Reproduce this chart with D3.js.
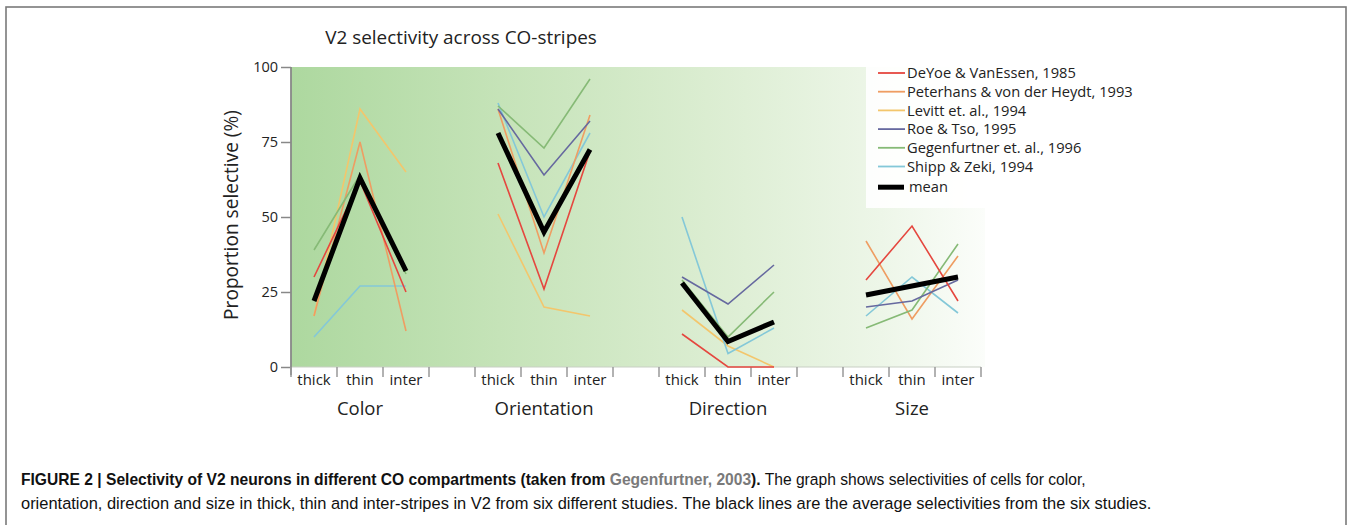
<!DOCTYPE html>
<html>
<head>
<meta charset="utf-8">
<script src="https://cdn.jsdelivr.net/npm/d3@7"></script>
<style>
  html, body { margin: 0; padding: 0; background: #fff; }
  svg { display: block; }
  text { font-family: "Open Sans", "Noto Sans", sans-serif; fill: #222; }
  .caption text { font-family: "Liberation Sans Narrow", "Liberation Sans", Arial, sans-serif; fill: #111; }
</style>
</head>
<body>
<div id="chart"></div>
<script>
// groups of stripes (x axis)
const groups = ["Color", "Orientation", "Direction", "Size"];
const stripes = ["thick", "thin", "inter"];
const yTicks = [0, 25, 50, 75, 100];

const studies = [
  "DeYoe & VanEssen, 1985",
  "Peterhans & von der Heydt, 1993",
  "Levitt et. al., 1994",
  "Roe & Tso, 1995",
  "Gegenfurtner et. al., 1996",
  "Shipp & Zeki, 1994"
];
const studyColors = ["#e5473f", "#ef9d62", "#f3c66c", "#66699f", "#86ba76", "#84c8d8"];

// values per study: Color(thick,thin,inter), Orientation(...), Direction(...), Size(...)
const deyoe        = [30, 62, 25,   68, 26, 72,   11, 0, 0,      29, 47, 22];
const peterhans    = [17, 75, 12,   86, 38, 84,   null, null, null, 42, 16, 37];
const levitt       = [17, 86, 65,   51, 20, 17,   19, 7, 0,      null, null, null];
const roe          = [null, null, null, 86, 64, 82, 30, 21, 34,  20, 22, 29];
const gegenfurtner = [39, 64, 31,   87, 73, 96,   29, 10, 25,    13, 19, 41];
const shipp        = [10, 27, 27,   88, 50, 78,   50, 4.5, 13,   17, 30, 18];
const meanVals     = [22, 63, 32,   78, 45, 72.5, 28, 8.5, 15,   24, 27, 30];

const studyValues = [deyoe, peterhans, levitt, roe, gegenfurtner, shipp];
const drawOrder = [2, 5, 1, 4, 3, 0];

const [width, height] = [1349, 525];

const svg = d3.select("#chart").append("svg")
  .attr("width", width)
  .attr("height", height);

// figure frame
svg.append("rect")
  .attr("x", 6).attr("y", 7)
  .attr("width", 1340).attr("height", 540)
  .attr("fill", "none")
  .attr("stroke", "#7a7a7a")
  .attr("stroke-width", 1.6);

const slot = d3.scaleLinear().domain([0, 15]).range([291, 981]);
const y = d3.scaleLinear().domain([0, 100]).range([367, 67]);

const defs = svg.append("defs");
const grad = defs.append("linearGradient").attr("id", "bg")
  .attr("x1", "0%").attr("x2", "100%").attr("y1", "0%").attr("y2", "0%");
[["0%", "#add89f"], ["30%", "#c5e3b8"], ["60%", "#dbedd1"], ["85%", "#edf6e8"], ["100%", "#fbfdfa"]]
  .forEach(s => grad.append("stop").attr("offset", s[0]).attr("stop-color", s[1]));

svg.append("rect")
  .attr("x", slot(0)).attr("y", y(100))
  .attr("width", slot(15) - slot(0) + 4)
  .attr("height", y(0) - y(100))
  .attr("fill", "url(#bg)");

// baseline
svg.append("line")
  .attr("x1", slot(0)).attr("x2", slot(15))
  .attr("y1", y(0)).attr("y2", y(0))
  .attr("stroke", "#c8cfc4").attr("stroke-width", 1);

// y axis
const yAxis = svg.append("g")
  .attr("transform", `translate(${slot(0)},0)`)
  .call(d3.axisLeft(y).tickValues(yTicks).tickSize(10).tickSizeOuter(0).tickPadding(3));
yAxis.select(".domain").attr("stroke", "#888").attr("stroke-width", 1.8)
  .attr("d", `M0,${y(100)}V${y(0) + 8}`);
yAxis.selectAll(".tick line").attr("stroke", "#888").attr("stroke-width", 1.5);
yAxis.selectAll(".tick text")
  .style("font-family", "'Open Sans', sans-serif")
  .style("font-size", "14.5px").attr("fill", "#222");

// x ticks and labels
groups.forEach((g, gi) => {
  for (let k = 0; k <= 3; k++) {
    svg.append("line")
      .attr("x1", slot(gi * 4 + k)).attr("x2", slot(gi * 4 + k))
      .attr("y1", y(0)).attr("y2", y(0) + 10)
      .attr("stroke", "#999").attr("stroke-width", 1.5);
  }
  stripes.forEach((s, si) => {
    svg.append("text")
      .attr("x", slot(gi * 4 + si + 0.5))
      .attr("y", 385)
      .attr("text-anchor", "middle")
      .style("font-size", "15px")
      .text(s);
  });
  svg.append("text")
    .attr("x", slot(gi * 4 + 1.5))
    .attr("y", 415)
    .attr("text-anchor", "middle")
    .style("font-size", "18.5px")
    .text(g);
});

// helper to fit a text to a target width
function fitWidth(sel, w) {
  const node = sel.node();
  const fs = parseFloat(sel.style("font-size"));
  const cur = node.getComputedTextLength();
  const size = fs * w / cur;
  sel.style("font-size", size + "px");
  return size;
}

// title
const title = svg.append("text")
  .attr("x", 461).attr("y", 44)
  .attr("text-anchor", "middle")
  .style("font-size", "18px")
  .text("V2 selectivity across CO-stripes");
fitWidth(title, 272);

// y label
const yLabel = svg.append("text")
  .attr("transform", "translate(238,215) rotate(-90)")
  .attr("text-anchor", "middle")
  .style("font-size", "18px")
  .text("Proportion selective (%)");
fitWidth(yLabel, 210);

// lines
const line = d3.line()
  .defined(d => d.v != null)
  .x(d => slot(d.g * 4 + d.s + 0.5))
  .y(d => y(d.v));

function segments(vals) {
  return groups.map((g, gi) => stripes.map((s, si) => ({ g: gi, s: si, v: vals[gi * 3 + si] })));
}

drawOrder.forEach(i => {
  svg.append("g").selectAll("path")
    .data(segments(studyValues[i]))
    .enter().append("path")
    .attr("d", line)
    .attr("fill", "none")
    .attr("stroke", studyColors[i])
    .attr("stroke-width", 1.6);
});

svg.append("g").selectAll("path")
  .data(segments(meanVals))
  .enter().append("path")
  .attr("d", line)
  .attr("fill", "none")
  .attr("stroke", "#000")
  .attr("stroke-width", 5)
  .attr("stroke-linejoin", "miter");

// legend
svg.append("rect")
  .attr("x", 866).attr("y", 60)
  .attr("width", 300).attr("height", 148)
  .attr("fill", "#fff").attr("opacity", 0.9);

const legendItems = studies.map((s, i) => ({ label: s, color: studyColors[i], w: 1.8 }))
  .concat([{ label: "mean", color: "#000", w: 5 }]);

const lg = svg.append("g");
const labels = [];
legendItems.forEach((d, i) => {
  const ly = 73 + i * 18.7 + (d.label === "mean" ? 2 : 0);
  lg.append("line")
    .attr("x1", 878).attr("x2", d.label === "mean" ? 904 : 905)
    .attr("y1", ly).attr("y2", ly)
    .attr("stroke", d.color).attr("stroke-width", d.w);
  labels.push(lg.append("text")
    .attr("x", d.label === "mean" ? 909 : 907).attr("y", ly)
    .attr("dy", "0.35em")
    .style("font-size", "13.5px")
    .text(d.label));
});
const legendSize = fitWidth(labels[1], 226);
labels.forEach(t => t.style("font-size", legendSize + "px"));

// caption
const cap = svg.append("g").attr("class", "caption");
const l1 = cap.append("text").attr("x", 0).attr("y", 0).style("font-size", "16.5px");
l1.append("tspan").style("font-weight", "bold")
  .text("FIGURE 2 | Selectivity of V2 neurons in different CO compartments (taken from ");
l1.append("tspan").style("font-weight", "bold").style("fill", "#7a7a7a").text("Gegenfurtner, 2003");
l1.append("tspan").style("font-weight", "bold").text(").");
l1.append("tspan").text(" The graph shows selectivities of cells for color,");
const l2 = cap.append("text").attr("x", 0).attr("y", 0).style("font-size", "16.5px")
  .text("orientation, direction and size in thick, thin and inter-stripes in V2 from six different studies. The black lines are the average selectivities from the six studies.");

[[l1, 1087, 485], [l2, 1152, 509]].forEach(([t, right, base]) => {
  const w = t.node().getComputedTextLength();
  const k = (right - 21) / w;
  t.attr("transform", `translate(21,${base}) scale(${k},1)`);
});
</script>
</body>
</html>
